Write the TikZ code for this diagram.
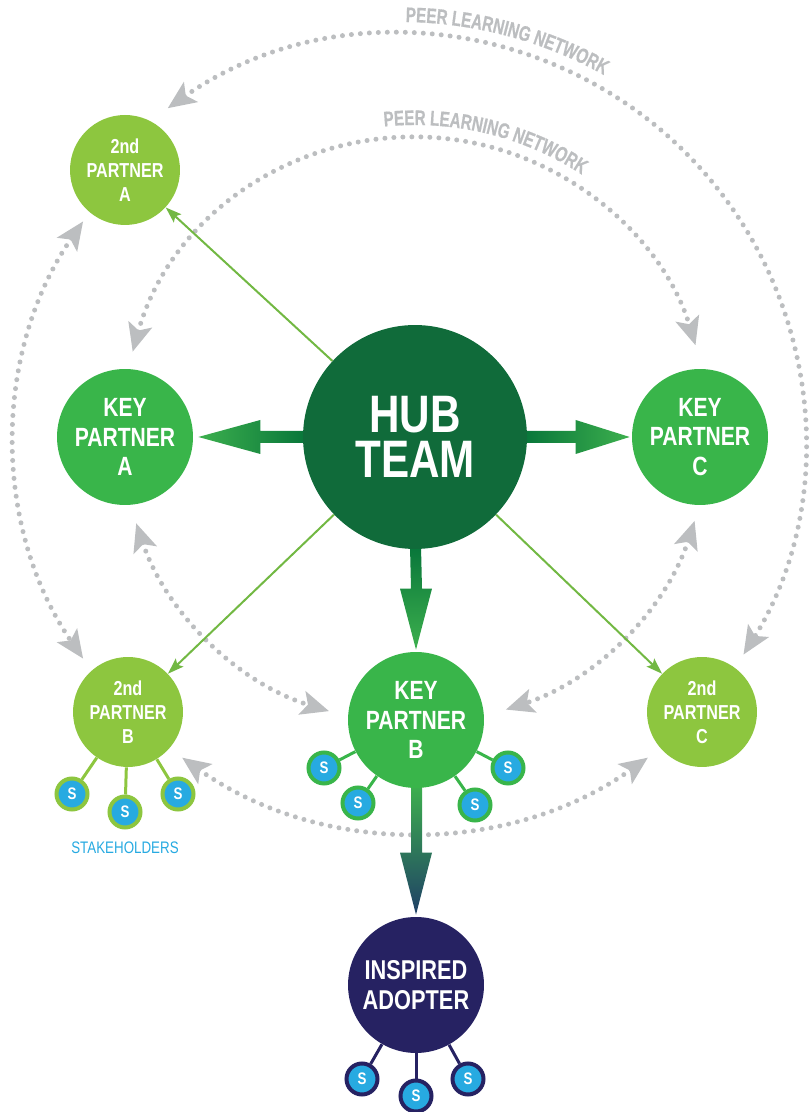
\documentclass[tikz,border=0pt]{standalone}
\usepackage{fontspec}
\newfontfamily\nodefont{Liberation Sans}[FakeStretch=0.8]
\newfontfamily\peerfont{Liberation Sans Bold}[FakeStretch=0.72, FakeBold=0.6]
\usetikzlibrary{calc, arrows.meta, positioning, backgrounds, decorations.text}
\definecolor{hubgreen}{HTML}{106B3A}
\definecolor{keygreen}{HTML}{39B54A}
\definecolor{leafgreen}{HTML}{8DC63F}
\definecolor{adoptnavy}{HTML}{262262}
\definecolor{stakeblue}{HTML}{27AAE1}
\definecolor{peergray}{HTML}{BCBEC0}
\definecolor{twiggreen}{HTML}{72B843}
\definecolor{arrowdark}{HTML}{08763A}
\definecolor{arrowlight}{HTML}{3DB04E}
\definecolor{arrownavy}{HTML}{1F3F66}

\begin{document}
\begin{tikzpicture}[x=0.02cm, y=0.02cm,
    hubnode/.style={circle, fill=hubgreen, minimum size=4.48cm, inner sep=0pt, text=white, align=center,
      font=\nodefont\bfseries\fontsize{30}{26}\selectfont},
    keynode/.style={circle, fill=keygreen, minimum size=2.72cm, inner sep=0pt, text=white, align=center,
      font=\nodefont\bfseries\fontsize{15}{17}\selectfont},
    secnode/.style={circle, fill=leafgreen, minimum size=2.2cm, inner sep=0pt, text=white, align=center,
      font=\nodefont\bfseries\fontsize{11.5}{13.6}\selectfont},
    adoptnode/.style={keynode, fill=adoptnavy, font=\nodefont\bfseries\fontsize{15.5}{17}\selectfont},
    stake/.style={circle, fill=stakeblue, line width=0.08cm, minimum size=0.62cm, inner sep=0pt, text=white,
      font=\nodefont\bfseries\fontsize{9.5}{10}\selectfont},
    twig/.style={draw=twiggreen, line width=0.04cm, -{Stealth[length=0.32cm, width=0.22cm, inset=0.06cm]}},
    stem/.style={line width=0.06cm},
    peer/.style={draw=peergray, line width=0.1cm, line cap=round, dash pattern=on 0pt off 0.18cm,
      {Stealth[length=0.56cm, width=0.48cm, inset=0.12cm]}-{Stealth[length=0.56cm, width=0.48cm, inset=0.12cm]}},
    peertext/.style={decorate, decoration={text along path, text align=center, text color=peergray,
      text={|\peerfont\fontsize{12}{13}\selectfont|PEER LEARNING NETWORK}}}]
  \useasboundingbox (0,0) rectangle (810,1112);

  \coordinate (outc) at (400,672);
  \coordinate (innc) at (415,682);

  \node[hubnode] (hub) at (415,675) {HUB\\TEAM};
  \node[secnode] (sa) at (125,942) {2nd\\PARTNER\\A};
  \node[keynode] (kpa) at (125,675) {KEY\\PARTNER\\A};
  \node[keynode] (kpc) at (700,675) {KEY\\PARTNER\\C};
  \node[secnode] (sb) at (128,400) {2nd\\PARTNER\\B};
  \node[keynode] (kpb) at (416,392) {KEY\\PARTNER\\B};
  \node[secnode] (sc) at (702,400) {2nd\\PARTNER\\C};
  \node[adoptnode] (adopt) at (416,127) {INSPIRED\\ADOPTER};

  \foreach \n/\x/\y in {1/72/318, 2/125/300, 3/178/318} {
    \node[stake, draw=leafgreen] (sb\n) at (\x,\y) {S};
    \begin{scope}[on background layer]
      \draw[stem, leafgreen] (sb) -- (sb\n);
    \end{scope}
  }
  \foreach \n/\x/\y in {1/324/344, 2/358/309, 3/475/307, 4/508/344} {
    \node[stake, draw=keygreen] (kpb\n) at (\x,\y) {S};
    \begin{scope}[on background layer]
      \draw[stem, keygreen] (kpb) -- (kpb\n);
    \end{scope}
  }
  \foreach \n/\x/\y in {1/362/33, 2/416/16, 3/468/33} {
    \node[stake, draw=adoptnavy] (adopt\n) at (\x,\y) {S};
    \begin{scope}[on background layer]
      \draw[stem, adoptnavy] (adopt) -- (adopt\n);
    \end{scope}
  }

  \node[below=0.13cm of sb2, text=stakeblue, font=\nodefont\fontsize{9.5}{11}\selectfont] (stk) {STAKEHOLDERS};

  \begin{scope}[on background layer]
    \draw[peer] ($(outc)+(125:405)$) arc[start angle=125, end angle=-32, radius=405];
    \draw[peer] ($(outc)+(145.4:385)$) arc[start angle=145.4, end angle=214.6, radius=385];
    \draw[peer] ($(innc)+(164.5:293)$) arc[start angle=164.5, end angle=16.8, radius=293];
    \draw[peer] ($(innc)+(198.5:294)$) arc[start angle=198.5, end angle=253, radius=294];
    \draw[peer] ($(innc)+(-18:294)$) arc[start angle=-18, end angle=-72, radius=294];
    \draw[peer] ($(innc)+(234.6:402)$) arc[start angle=234.6, end angle=305.4, radius=402];

    \draw[twig] (hub) -- (sa);
    \draw[twig] (hub) -- (sb);
    \draw[twig] (hub) -- (sc);

    \shade[left color=arrowlight, right color=arrowdark]
      ($(hub.west)+(3,6)$) -- ($(kpa.east)+(67,6)$) -- ($(kpa.east)+(67,17)$) -- ($(kpa.east)+(5,0)$)
      -- ($(kpa.east)+(67,-17)$) -- ($(kpa.east)+(67,-6)$) -- ($(hub.west)+(3,-6)$) -- cycle;
    \shade[left color=arrowdark, right color=arrowlight]
      ($(hub.east)+(-3,6)$) -- ($(kpc.west)+(-56,6)$) -- ($(kpc.west)+(-56,17)$) -- ($(kpc.west)+(-2,0)$)
      -- ($(kpc.west)+(-56,-17)$) -- ($(kpc.west)+(-56,-6)$) -- ($(hub.east)+(-3,-6)$) -- cycle;
    \shade[top color=arrowdark, bottom color=arrowlight]
      ($(hub.south)+(-5,3)$) -- ($(kpb.north)+(-5,63)$) -- ($(kpb.north)+(-16,63)$) -- ($(kpb.north)+(0,2)$)
      -- ($(kpb.north)+(16,63)$) -- ($(kpb.north)+(6,63)$) -- ($(hub.south)+(6,3)$) -- cycle;
    \shade[top color=arrowlight, bottom color=arrownavy]
      ($(kpb.south)+(-5,3)$) -- ($(adopt.north)+(-5,64)$) -- ($(adopt.north)+(-16,64)$) -- ($(adopt.north)+(0,2)$)
      -- ($(adopt.north)+(16,64)$) -- ($(adopt.north)+(6,64)$) -- ($(kpb.south)+(6,3)$) -- cycle;
  \end{scope}

  \path[peertext] ($(outc)+(90:418)$) arc[start angle=90, end angle=60, radius=418];
  \path[peertext] ($(innc)+(97:305)$) arc[start angle=97, end angle=55.6, radius=305];
\end{tikzpicture}
\end{document}
